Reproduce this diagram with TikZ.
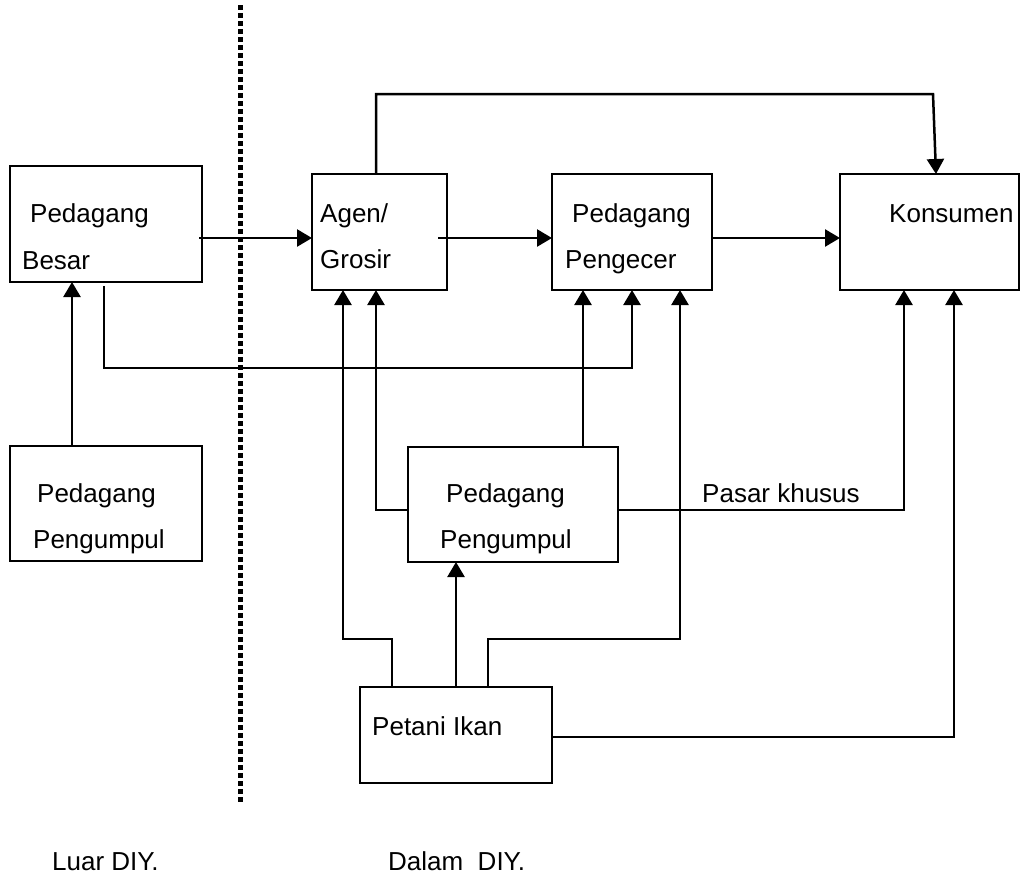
\documentclass[tikz,border=0pt]{standalone}
\usepackage{fontspec}
\setmainfont{Liberation Sans}
\usetikzlibrary{arrows.meta}
\begin{document}
\begin{tikzpicture}[x=1pt,y=-1pt,
  box/.style={draw, line width=2.3pt, inner sep=0pt, outer sep=0pt},
  lbl/.style={anchor=base west, inner sep=0pt, font=\fontsize{26}{31}\selectfont},
  conn/.style={line width=2.5pt},
  arr/.style={conn, -{Triangle[width=17pt,length=15pt]}}]
\useasboundingbox (0,0) rectangle (1023,878);
\fill[white] (0,0) rectangle (1023,878);
% boxes
\node[box, minimum width=192pt, minimum height=116pt] (besar) at (106,224) {};
\node[box, minimum width=192pt, minimum height=115pt] (pengL) at (106,503.5) {};
\node[box, minimum width=135pt, minimum height=116pt] (agen) at (379.5,232) {};
\node[box, minimum width=160pt, minimum height=116pt] (ecer) at (632,232) {};
\node[box, minimum width=179pt, minimum height=116pt] (kons) at (929.5,232) {};
\node[box, minimum width=210pt, minimum height=115pt] (pengM) at (513,504.5) {};
\node[box, minimum width=192pt, minimum height=96pt] (petani) at (456,735) {};
% texts
\node[lbl] (t1) at (30,222) {Pedagang};
\node[lbl] (t2) at (22,269) {Besar};
\node[lbl] (t3) at (37,502) {Pedagang};
\node[lbl] (t4) at (33,548) {Pengumpul};
\node[lbl] (t5) at (320,222) {Agen/};
\node[lbl] (t6) at (320,268) {Grosir};
\node[lbl] (t7) at (572,222) {Pedagang};
\node[lbl] (t8) at (565,268) {Pengecer};
\node[lbl] (t9) at (889,222) {Konsumen};
\node[lbl] (t10) at (446,502) {Pedagang};
\node[lbl] (t11) at (440,548) {Pengumpul};
\node[lbl] (t12) at (372,735) {Petani Ikan};
\node[lbl] (t13) at (702,502) {Pasar khusus};
\node[lbl] (t14) at (52,870) {Luar DIY.};
\node[lbl] (t15) at (388,870) {Dalam\ \ DIY.};
% divider
\draw[line width=5pt, dash pattern=on 4.5pt off 3.5pt] (240,5) -- (240,804);
% helper coordinates
\coordinate (ymid) at (0,238);
\coordinate (xa1) at (343,0);
\coordinate (xa2) at (376,0);
\coordinate (xe1) at (583,0);
\coordinate (xe2) at (632,0);
\coordinate (xe3) at (680,0);
\coordinate (xk1) at (904,0);
\coordinate (xk2) at (954,0);
\coordinate (xl) at (72,0);
\coordinate (xb) at (104,0);
\coordinate (xp1) at (392,0);
\coordinate (xp2) at (456,0);
\coordinate (xp3) at (488,0);
\coordinate (topL) at (376,94);
\coordinate (topR) at (933,94);
\coordinate (kin) at (936,0);
\coordinate (bst) at (104,286);
\coordinate (bcor) at (104,368);
\coordinate (pcorL) at (343,639);
\coordinate (pcorR) at (680,639);
\coordinate (pl) at (392,639);
\coordinate (pr) at (488,639);
\coordinate (ymk) at (0,510);
\coordinate (ypt) at (0,737);
% connectors
\draw[arr] ([xshift=-3pt]besar.east |- ymid) -- (agen.west |- ymid);
\draw[arr] ([xshift=-9pt]agen.east |- ymid) -- (ecer.west |- ymid);
\draw[arr] (ecer.east |- ymid) -- (kons.west |- ymid);
\draw[arr] (agen.north -| xa2) -- (topL) -- (topR) -- (kons.north -| kin);
\draw[arr] (pengL.north -| xl) -- (besar.south -| xl);
\draw[arr] (bst) -- (bcor) -- (bcor -| xe2) -- (ecer.south -| xe2);
\draw[arr] (pengM.west |- ymk) -| (agen.south -| xa2);
\draw[arr] (pengM.north -| xe1) -- (ecer.south -| xe1);
\draw[arr] (pengM.east |- ymk) -| (kons.south -| xk1);
\draw[arr] (petani.north -| xp1) -- (pl) -- (pcorL) -- (agen.south -| xa1);
\draw[arr] (petani.north -| xp2) -- (pengM.south -| xp2);
\draw[arr] (petani.north -| xp3) -- (pr) -- (pcorR) -- (ecer.south -| xe3);
\draw[arr] (petani.east |- ypt) -| (kons.south -| xk2);
\end{tikzpicture}
\end{document}
